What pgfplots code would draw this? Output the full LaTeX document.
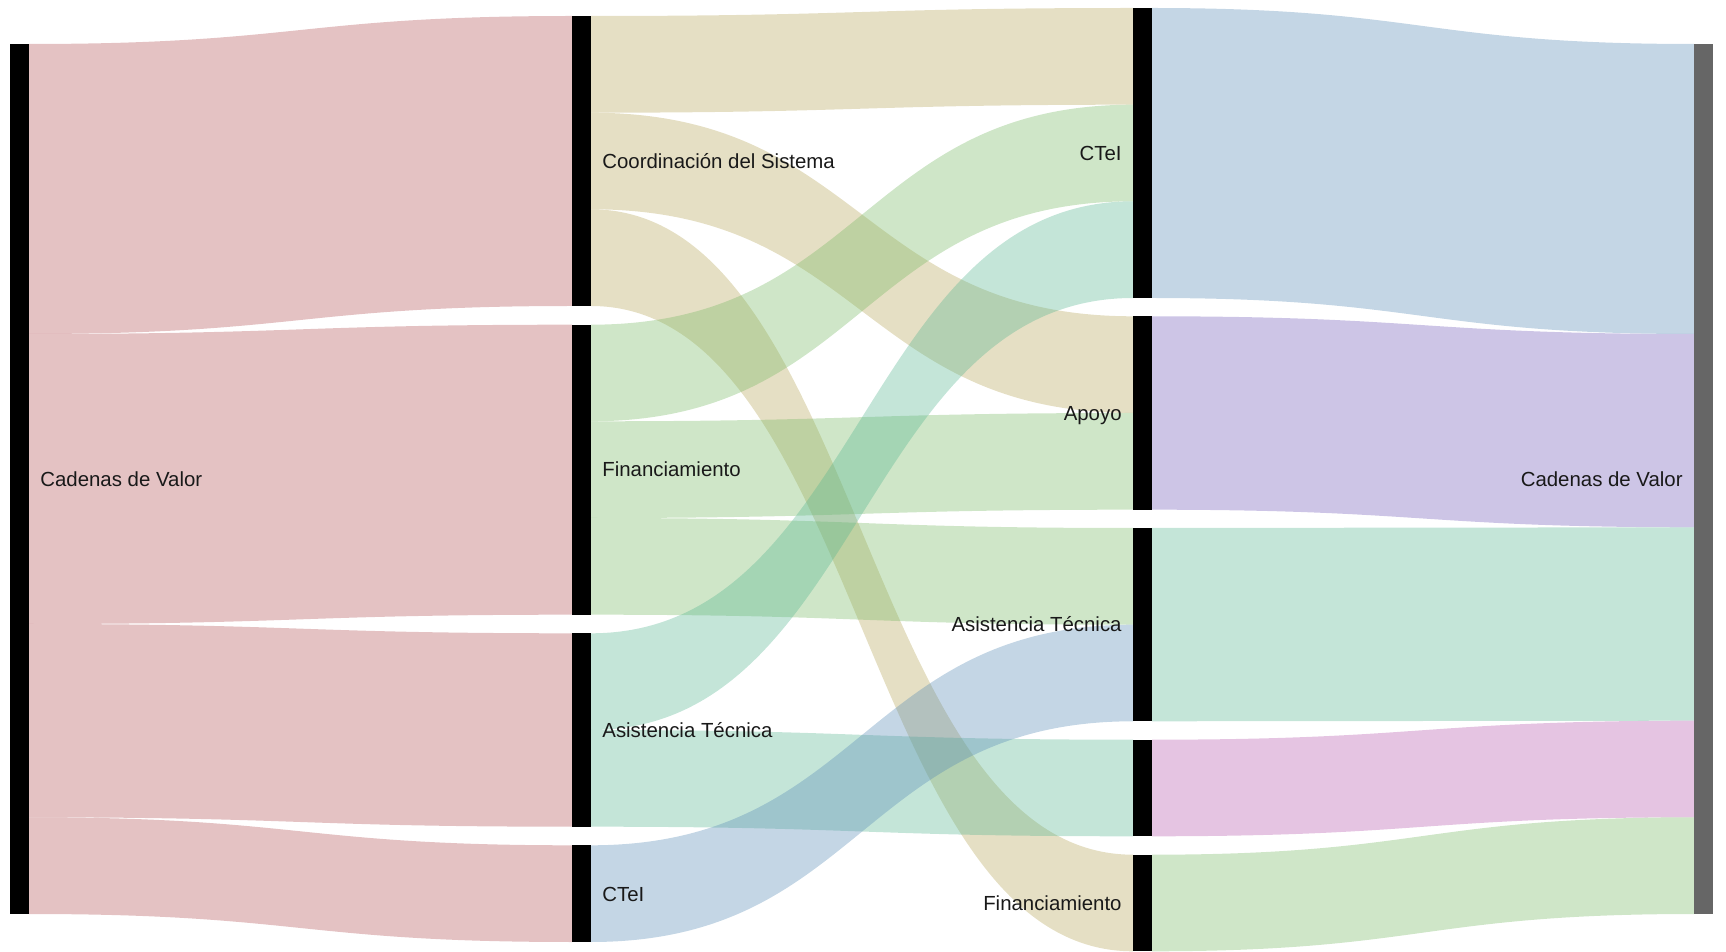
\documentclass[border=0pt]{standalone}
\usepackage{fontspec}
\setmainfont{Liberation Sans}
\usepackage{pgfplots}
\pgfplotsset{compat=1.18}

% link colours, drawn at 35% opacity as in the original
\definecolor{lkSrc}{RGB}{178,81,84}
\definecolor{lkTan}{RGB}{181,164,86}
\definecolor{lkGreen}{RGB}{118,184,98}
\definecolor{lkTeal}{RGB}{86,181,144}
\definecolor{lkBlue}{RGB}{86,138,181}
\definecolor{lkPurple}{RGB}{112,89,184}
\definecolor{lkPink}{RGB}{181,86,172}
\definecolor{nodeGray}{RGB}{102,102,102}

% band: x1 xmid x2 {source top} {source bottom} {target top} {target bottom} colour
\newcommand{\band}[8]{%
  \fill[#8, fill opacity=0.35] (axis cs:#1,#4) .. controls (axis cs:#2,#4) and (axis cs:#2,#6) .. (axis cs:#3,#6)
    -- (axis cs:#3,#7) .. controls (axis cs:#2,#7) and (axis cs:#2,#5) .. (axis cs:#1,#5) -- cycle;}
% node bar: x1 x2 top bottom colour
\newcommand{\nodebar}[5]{%
  \addplot[fill=#5, draw=none, forget plot] coordinates {(#1,#3) (#2,#3) (#2,#4) (#1,#4)};}
\newcommand{\lblL}[3]{\node[anchor=base west, inner sep=0pt, yshift=-3.65pt, text=black!90] at (axis cs:#1,#2) {#3};}
\newcommand{\lblR}[3]{\node[anchor=base east, inner sep=0pt, yshift=-3.65pt, text=black!90] at (axis cs:#1,#2) {#3};}

\begin{document}
\begin{tikzpicture}
\begin{axis}[
  width=863pt, height=475.5pt, scale only axis,
  xmin=0, xmax=1726, ymin=0, ymax=951, y dir=reverse,
  hide axis, clip=false,
  font=\fontsize{10.2pt}{12pt}\selectfont,
]
\path (axis cs:0,0) rectangle (axis cs:1726,951);

% Cadenas de Valor -> actores
\band{29}{300.5}{572}{44}{334}{16}{306}{lkSrc}
\band{29}{300.5}{572}{334}{624}{324.7}{614.7}{lkSrc}
\band{29}{300.5}{572}{624}{817.3}{633.3}{826.7}{lkSrc}
\band{29}{300.5}{572}{817.3}{914}{845.3}{942}{lkSrc}

% actores -> tipo de apoyo
\band{591}{862}{1133}{16}{112.7}{8}{104.7}{lkTan}
\band{591}{862}{1133}{112.7}{209.3}{316.3}{413}{lkTan}
\band{591}{862}{1133}{209.3}{306}{854.7}{951.3}{lkTan}
\band{591}{862}{1133}{324.7}{421.3}{104.7}{201.3}{lkGreen}
\band{591}{862}{1133}{421.3}{518}{413}{509.7}{lkGreen}
\band{591}{862}{1133}{518}{614.7}{528}{624.7}{lkGreen}
\band{591}{862}{1133}{633.3}{730}{201.3}{298}{lkTeal}
\band{591}{862}{1133}{730}{826.7}{739.7}{836.3}{lkTeal}
\band{591}{862}{1133}{845.3}{942}{624.7}{721.3}{lkBlue}

% tipo de apoyo -> Cadenas de Valor
\band{1152}{1423}{1694}{8}{298}{44}{334}{lkBlue}
\band{1152}{1423}{1694}{316.3}{509.7}{334}{527.3}{lkPurple}
\band{1152}{1423}{1694}{528}{721.3}{527.3}{720.7}{lkTeal}
\band{1152}{1423}{1694}{739.7}{836.3}{720.7}{817.3}{lkPink}
\band{1152}{1423}{1694}{854.7}{951.3}{817.3}{914}{lkGreen}

% nodes
\nodebar{10}{29}{44}{914}{black}
\nodebar{572}{591}{16}{306}{black}
\nodebar{572}{591}{324.7}{614.7}{black}
\nodebar{572}{591}{633.3}{826.7}{black}
\nodebar{572}{591}{845.3}{942}{black}
\nodebar{1133}{1152}{8}{298}{black}
\nodebar{1133}{1152}{316.3}{509.7}{black}
\nodebar{1133}{1152}{528}{721.3}{black}
\nodebar{1133}{1152}{739.7}{836.3}{black}
\nodebar{1133}{1152}{854.7}{951.3}{black}
\nodebar{1694}{1713}{44}{914}{nodeGray}

% labels
\lblL{40}{479}{Cadenas de Valor}
\lblL{602}{161}{Coordinación del Sistema}
\lblL{602}{469.7}{Financiamiento}
\lblL{602}{730}{Asistencia Técnica}
\lblL{602}{893.7}{CTeI}
\lblR{1122}{153}{CTeI}
\lblR{1122}{413}{Apoyo}
\lblR{1122}{624.7}{Asistencia Técnica}
\lblR{1122}{903}{Financiamiento}
\lblR{1683}{479}{Cadenas de Valor}
\end{axis}
\end{tikzpicture}
\end{document}
